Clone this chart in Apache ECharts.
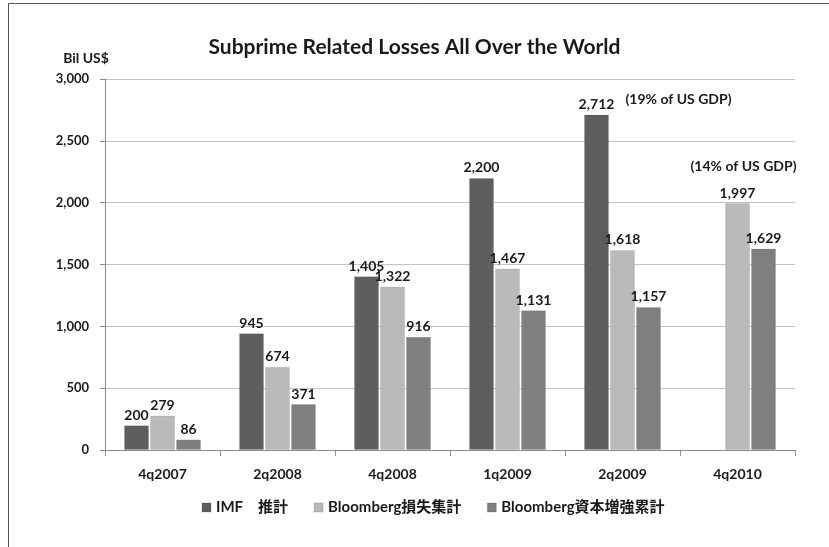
<!DOCTYPE html>
<html>
<head>
<meta charset="utf-8">
<script src="https://cdn.jsdelivr.net/npm/echarts@6/dist/echarts.min.js"></script>
<style>
  html, body { margin: 0; padding: 0; background: #fff; }
  #chart { width: 829px; height: 547px; }
</style>
</head>
<body>
<div id="chart"></div>
<script>
// Quarters on the category axis
var categories = ['4q2007', '2q2008', '4q2008', '1q2009', '2q2009', '4q2010'];

// Loss estimates in billions of US dollars
var imfEstimate = [200, 945, 1405, 2200, 2712, null];
var bloombergLosses = [279, 674, 1322, 1467, 1618, 1997];
var bloombergCapital = [86, 371, 916, 1131, 1157, 1629];

var seriesNames = ['IMF\u3000推計', 'Bloomberg損失集計', 'Bloomberg資本増強累計'];
var yTicks = { min: 0, max: 3000, interval: 500 };

var FONT = 'Lato, "Noto Sans CJK JP", sans-serif';
var chart = echarts.init(document.getElementById('chart'));

function fmt(v) {
  return v == null ? '' : v.toLocaleString('en-US');
}

var labelStyle = {
  show: true,
  position: 'top',
  distance: 3,
  fontFamily: FONT,
  fontWeight: 'bold',
  fontSize: 14,
  color: '#1a1a1a',
  formatter: function (p) { return fmt(p.value); }
};

function barSeries(name, data, color, extra) {
  var s = {
    name: name,
    type: 'bar',
    data: data,
    barWidth: 25,
    barGap: '4%',
    itemStyle: { color: color, borderColor: 'rgba(0,0,0,0.08)', borderWidth: 1 },
    label: labelStyle
  };
  if (extra) { for (var k in extra) s[k] = extra[k]; }
  return s;
}

var noteLabel = {
  fontFamily: FONT,
  fontWeight: 'bold',
  fontSize: 14,
  color: '#1a1a1a'
};

chart.setOption({
  backgroundColor: '#fff',
  animation: false,
  title: {
    text: 'Subprime Related Losses All Over the World',
    left: 'center',
    top: 32,
    textStyle: { fontFamily: FONT, fontWeight: 'bold', fontSize: 21, color: '#1a1a1a' }
  },
  graphic: [
    { type: 'line', shape: { x1: 8.5, y1: 3.5, x2: 8.5, y2: 547 }, style: { stroke: '#555', lineWidth: 1 } },
    { type: 'line', shape: { x1: 8.5, y1: 3.5, x2: 829, y2: 3.5 }, style: { stroke: '#555', lineWidth: 1 } }
  ],
  legend: {
    bottom: 27,
    left: 196,
    itemWidth: 9,
    itemHeight: 9,
    itemGap: 25,
    icon: 'rect',
    textStyle: { fontFamily: FONT, fontWeight: 'bold', fontSize: 15, color: '#1a1a1a' },
    data: seriesNames
  },
  grid: { left: 105, right: 34, top: 79, bottom: 97 },
  xAxis: {
    type: 'category',
    data: categories,
    axisLine: { lineStyle: { color: '#8c8c8c' } },
    axisTick: { show: true, length: 6, lineStyle: { color: '#8c8c8c' } },
    axisLabel: { fontFamily: FONT, fontWeight: 'bold', fontSize: 14, color: '#1a1a1a', margin: 17 }
  },
  yAxis: {
    type: 'value',
    min: yTicks.min,
    max: yTicks.max,
    interval: yTicks.interval,
    name: 'Bil US$',
    nameLocation: 'end',
    nameGap: 14,
    nameTextStyle: { fontFamily: FONT, fontWeight: 'bold', fontSize: 14, color: '#1a1a1a', align: 'center', padding: [0, 0, 0, -38] },
    axisLine: { show: true, lineStyle: { color: '#8c8c8c' } },
    axisTick: { show: true, length: 5, lineStyle: { color: '#8c8c8c' } },
    splitLine: { lineStyle: { color: '#c4c4c4' } },
    axisLabel: {
      fontFamily: FONT, fontWeight: 'bold', fontSize: 13, color: '#1a1a1a', margin: 16,
      formatter: function (v) { return fmt(v); }
    }
  },
  series: [
    barSeries(seriesNames[0], imfEstimate, '#5e5e5e', {
      markPoint: {
        symbol: 'rect', symbolSize: 0,
        data: [{ coord: ['2q2009', 2712], value: 2712 }],
        label: Object.assign({ show: true, position: 'inside', offset: [82, -15],
          formatter: '(19% of US GDP)' }, noteLabel)
      }
    }),
    barSeries(seriesNames[1], bloombergLosses, '#bababa', {
      markPoint: {
        symbol: 'rect', symbolSize: 0,
        data: [{ coord: ['4q2010', 1997], value: 1997 }],
        label: Object.assign({ show: true, position: 'inside', offset: [6, -37],
          formatter: '(14% of US GDP)' }, noteLabel)
      }
    }),
    barSeries(seriesNames[2], bloombergCapital, '#7f7f7f')
  ]
});
</script>
</body>
</html>
